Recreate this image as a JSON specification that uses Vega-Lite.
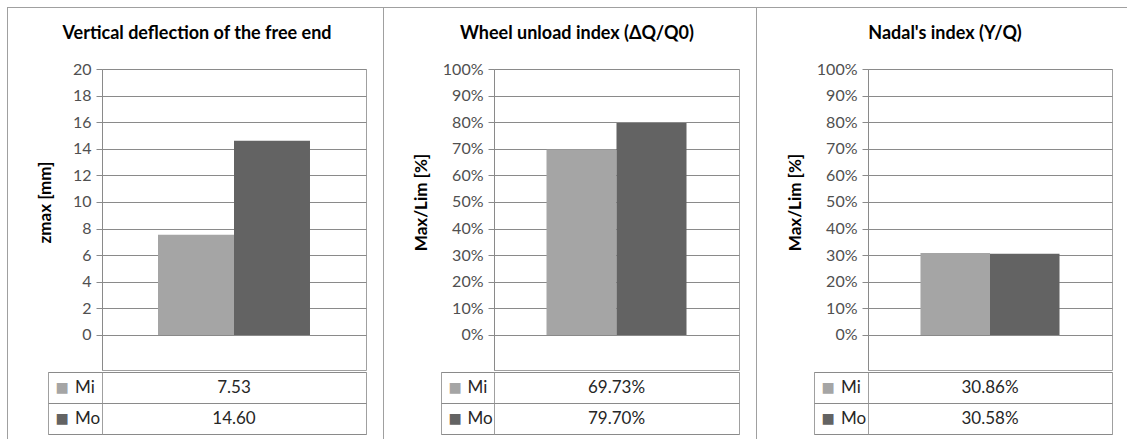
{
  "$schema": "https://vega.github.io/schema/vega-lite/v6.json",
  "padding": {"left": 7, "top": 7, "right": 0, "bottom": 0},
  "background": "white",
  "config": {
    "font": "Lato",
    "view": {"stroke": "#a0a0a0"},
    "axis": {
      "labelFont": "Lato", "labelFontSize": 16, "labelColor": "#505050",
      "titleFont": "Lato", "titleFontSize": 17, "titleFontWeight": "bold", "titleColor": "#000000",
      "tickColor": "#8a8a8a", "domainColor": "#8a8a8a", "gridColor": "#8a8a8a",
      "tickSize": 6, "labelPadding": 5
    }
  },
  "datasets": {
    "d1": [{"s": "Mi", "v": 7.53}, {"s": "Mo", "v": 14.60}],
    "d2": [{"s": "Mi", "v": 0.6973}, {"s": "Mo", "v": 0.7970}],
    "d3": [{"s": "Mi", "v": 0.3086}, {"s": "Mo", "v": 0.3058}]
  },
  "spacing": 0,
  "resolve": {"scale": {"x": "independent", "y": "independent"}},
  "vconcat": [
    {"width": 1120, "height": 1, "data": {"values": []}, "mark": {"type": "point"}, "view": {"stroke": null, "fill": "#a0a0a0"}},
    {
      "spacing": 16,
      "resolve": {"scale": {"x": "independent", "y": "independent"}},
      "hconcat": [
        {
          "spacing": 27,
          "resolve": {"scale": {"x": "independent", "y": "independent"}},
          "hconcat": [
            {"width": 1, "height": 432, "data": {"values": []}, "mark": {"type": "point"}, "view": {"stroke": null, "fill": "#a0a0a0"}},
            {
              "spacing": 0,
              "resolve": {"scale": {"x": "independent", "y": "independent"}},
              "vconcat": [
                {"width": 298, "height": 52, "data": {"values": [{"t": "Vertical deflection of the free end"}]}, "mark": {"type": "text", "fontSize": 18, "fontWeight": "bold", "color": "#000000"}, "encoding": {"text": {"field": "t"}}, "view": {"stroke": null}},
                {
                  "spacing": 0,
                  "resolve": {"scale": {"x": "independent", "y": "independent"}},
                  "vconcat": [
                    {
                      "spacing": 0, "bounds": "flush",
                      "resolve": {"scale": {"x": "independent", "y": "independent"}},
                      "hconcat": [
                        {"width": 54, "height": 301, "data": {"values": []}, "mark": {"type": "point"}, "view": {"stroke": null}},
                        {
                          "width": 264, "height": 301,
                          "data": {"name": "d1"},
                          "mark": {"type": "bar"},
                          "encoding": {
                            "x": {"field": "s", "type": "nominal", "axis": null, "scale": {"type": "band", "paddingInner": 0, "paddingOuter": 0.737}},
                            "y": {"field": "v", "type": "quantitative", "scale": {"domain": [-2.632, 20], "nice": false},
                                  "axis": {"values": [0, 2, 4, 6, 8, 10, 12, 14, 16, 18, 20], "title": "zmax [mm]", "titleY": 133, "minExtent": 38, "maxExtent": 38, "titlePadding": 10, "grid": true}},
                            "color": {"field": "s", "type": "nominal", "scale": {"range": ["#a5a5a5", "#636363"]}, "legend": null}
                          }
                        }
                      ]
                    },
                    {
                      "spacing": 0, "bounds": "flush",
                      "resolve": {"scale": {"x": "independent", "y": "independent"}},
                      "hconcat": [
                        {
                          "width": 54, "height": 62,
                          "data": {"name": "d1"},
                          "mark": {"type": "text", "fontSize": 17, "color": "#262626", "align": "left"},
                          "encoding": {
                            "y": {"field": "s", "type": "nominal", "scale": {"type": "band", "paddingInner": 0, "paddingOuter": 0},
                                  "axis": {"title": null, "ticks": false, "domain": false, "grid": false, "labelExpr": "'■'", "labelAlign": "left", "labelBaseline": "middle", "labelPadding": -7, "labelFont": "DejaVu Sans", "labelFontSize": 14,
                                           "labelColor": {"condition": {"test": "datum.value === 'Mi'", "value": "#a5a5a5"}, "value": "#636363"}}},
                            "text": {"field": "s", "type": "nominal"}
                          }
                        },
                        {
                          "width": 264, "height": 62,
                          "data": {"name": "d1"},
                          "mark": {"type": "text", "fontSize": 17, "color": "#262626"},
                          "encoding": {
                            "y": {"field": "s", "type": "nominal", "scale": {"type": "band", "paddingInner": 0, "paddingOuter": 0},
                                  "axis": {"title": null, "tickBand": "extent", "ticks": true, "tickSize": 54, "domain": false, "labels": false, "grid": true}},
                            "text": {"field": "v", "type": "quantitative", "format": ".2f"}
                          }
                        }
                      ]
                    }
                  ]
                }
              ]
            }
          ]
        },
        {
          "spacing": 27,
          "resolve": {"scale": {"x": "independent", "y": "independent"}},
          "hconcat": [
            {"width": 1, "height": 432, "data": {"values": []}, "mark": {"type": "point"}, "view": {"stroke": null, "fill": "#a0a0a0"}},
            {
              "spacing": 0,
              "resolve": {"scale": {"x": "independent", "y": "independent"}},
              "vconcat": [
                {"width": 272, "height": 52, "data": {"values": [{"t": "Wheel unload index (ΔQ/Q0)"}]}, "mark": {"type": "text", "fontSize": 18, "fontWeight": "bold", "color": "#000000"}, "encoding": {"text": {"field": "t"}}, "view": {"stroke": null}},
                {
                  "spacing": 0,
                  "resolve": {"scale": {"x": "independent", "y": "independent"}},
                  "vconcat": [
                    {
                      "spacing": 0, "bounds": "flush",
                      "resolve": {"scale": {"x": "independent", "y": "independent"}},
                      "hconcat": [
                        {"width": 53, "height": 301, "data": {"values": []}, "mark": {"type": "point"}, "view": {"stroke": null}},
                        {
                          "width": 245, "height": 301,
                          "data": {"name": "d2"},
                          "mark": {"type": "bar"},
                          "encoding": {
                            "x": {"field": "s", "type": "nominal", "axis": null, "scale": {"type": "band", "paddingInner": 0, "paddingOuter": 0.75}},
                            "y": {"field": "v", "type": "quantitative", "scale": {"domain": [-0.1316, 1], "nice": false},
                                  "axis": {"values": [0, 0.1, 0.2, 0.3, 0.4, 0.5, 0.6, 0.7, 0.8, 0.9, 1], "format": ".0%", "title": "Max/Lim [%]", "titleY": 133, "minExtent": 54, "maxExtent": 54, "titlePadding": 10, "grid": true}},
                            "color": {"field": "s", "type": "nominal", "scale": {"range": ["#a5a5a5", "#636363"]}, "legend": null}
                          }
                        }
                      ]
                    },
                    {
                      "spacing": 0, "bounds": "flush",
                      "resolve": {"scale": {"x": "independent", "y": "independent"}},
                      "hconcat": [
                        {
                          "width": 53, "height": 62,
                          "data": {"name": "d2"},
                          "mark": {"type": "text", "fontSize": 17, "color": "#262626", "align": "left"},
                          "encoding": {
                            "y": {"field": "s", "type": "nominal", "scale": {"type": "band", "paddingInner": 0, "paddingOuter": 0},
                                  "axis": {"title": null, "ticks": false, "domain": false, "grid": false, "labelExpr": "'■'", "labelAlign": "left", "labelBaseline": "middle", "labelPadding": -7, "labelFont": "DejaVu Sans", "labelFontSize": 14,
                                           "labelColor": {"condition": {"test": "datum.value === 'Mi'", "value": "#a5a5a5"}, "value": "#636363"}}},
                            "text": {"field": "s", "type": "nominal"}
                          }
                        },
                        {
                          "width": 245, "height": 62,
                          "data": {"name": "d2"},
                          "mark": {"type": "text", "fontSize": 17, "color": "#262626"},
                          "encoding": {
                            "y": {"field": "s", "type": "nominal", "scale": {"type": "band", "paddingInner": 0, "paddingOuter": 0},
                                  "axis": {"title": null, "tickBand": "extent", "ticks": true, "tickSize": 53, "domain": false, "labels": false, "grid": true}},
                            "text": {"field": "v", "type": "quantitative", "format": ".2%"}
                          }
                        }
                      ]
                    }
                  ]
                }
              ]
            }
          ]
        },
        {
          "spacing": 28,
          "resolve": {"scale": {"x": "independent", "y": "independent"}},
          "hconcat": [
            {"width": 1, "height": 432, "data": {"values": []}, "mark": {"type": "point"}, "view": {"stroke": null, "fill": "#a0a0a0"}},
            {
              "spacing": 0,
              "resolve": {"scale": {"x": "independent", "y": "independent"}},
              "vconcat": [
                {"width": 262, "height": 52, "data": {"values": [{"t": "Nadal's index (Y/Q)"}]}, "mark": {"type": "text", "fontSize": 18, "fontWeight": "bold", "color": "#000000"}, "encoding": {"text": {"field": "t"}}, "view": {"stroke": null}},
                {
                  "spacing": 0,
                  "resolve": {"scale": {"x": "independent", "y": "independent"}},
                  "vconcat": [
                    {
                      "spacing": 0, "bounds": "flush",
                      "resolve": {"scale": {"x": "independent", "y": "independent"}},
                      "hconcat": [
                        {"width": 54, "height": 301, "data": {"values": []}, "mark": {"type": "point"}, "view": {"stroke": null}},
                        {
                          "width": 244, "height": 301,
                          "data": {"name": "d3"},
                          "mark": {"type": "bar"},
                          "encoding": {
                            "x": {"field": "s", "type": "nominal", "axis": null, "scale": {"type": "band", "paddingInner": 0, "paddingOuter": 0.755}},
                            "y": {"field": "v", "type": "quantitative", "scale": {"domain": [-0.1316, 1], "nice": false},
                                  "axis": {"values": [0, 0.1, 0.2, 0.3, 0.4, 0.5, 0.6, 0.7, 0.8, 0.9, 1], "format": ".0%", "title": "Max/Lim [%]", "titleY": 133, "minExtent": 54, "maxExtent": 54, "titlePadding": 10, "grid": true}},
                            "color": {"field": "s", "type": "nominal", "scale": {"range": ["#a5a5a5", "#636363"]}, "legend": null}
                          }
                        }
                      ]
                    },
                    {
                      "spacing": 0, "bounds": "flush",
                      "resolve": {"scale": {"x": "independent", "y": "independent"}},
                      "hconcat": [
                        {
                          "width": 54, "height": 62,
                          "data": {"name": "d3"},
                          "mark": {"type": "text", "fontSize": 17, "color": "#262626", "align": "left"},
                          "encoding": {
                            "y": {"field": "s", "type": "nominal", "scale": {"type": "band", "paddingInner": 0, "paddingOuter": 0},
                                  "axis": {"title": null, "ticks": false, "domain": false, "grid": false, "labelExpr": "'■'", "labelAlign": "left", "labelBaseline": "middle", "labelPadding": -7, "labelFont": "DejaVu Sans", "labelFontSize": 14,
                                           "labelColor": {"condition": {"test": "datum.value === 'Mi'", "value": "#a5a5a5"}, "value": "#636363"}}},
                            "text": {"field": "s", "type": "nominal"}
                          }
                        },
                        {
                          "width": 244, "height": 62,
                          "data": {"name": "d3"},
                          "mark": {"type": "text", "fontSize": 17, "color": "#262626"},
                          "encoding": {
                            "y": {"field": "s", "type": "nominal", "scale": {"type": "band", "paddingInner": 0, "paddingOuter": 0},
                                  "axis": {"title": null, "tickBand": "extent", "ticks": true, "tickSize": 54, "domain": false, "labels": false, "grid": true}},
                            "text": {"field": "v", "type": "quantitative", "format": ".2%"}
                          }
                        }
                      ]
                    }
                  ]
                }
              ]
            }
          ]
        }
      ]
    }
  ]
}
